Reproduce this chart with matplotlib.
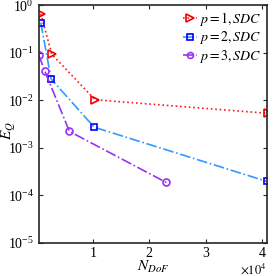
import matplotlib
matplotlib.use("Agg")
import matplotlib.pyplot as plt
import numpy as np

plt.rcParams['font.family'] = ['Liberation Serif', 'DejaVu Serif']
plt.rcParams['mathtext.fontset'] = 'stix'

# degrés de liberté et erreur E_Q
ndof_p1 = [710, 2660, 10350, 41000]
err_p1 = [0.66, 0.093, 0.0102, 0.0053]
ndof_p2 = [710, 2540, 10200, 40850]
err_p2 = [0.43, 0.028, 0.0027, 1.95e-4]
ndof_p3 = [355, 1420, 5800, 23000]
err_p3 = [0.089, 0.041, 0.0022, 1.85e-4]
labels = [r'$p=1, SDC$', r'$p=2, SDC$', r'$p=3, SDC$']

fig = plt.figure(figsize=(2.73, 2.76), dpi=100)
ax = fig.add_axes([0.142, 0.121, 0.835, 0.860])

ax.semilogy(ndof_p1, err_p1, ':', color=(1, 0.1, 0.1), lw=1.2,
            marker='>', ms=6, mfc='none', mec=(0.95, 0, 0), mew=1.2, label=labels[0])
ax.semilogy(ndof_p2, err_p2, '-.', color=(0.2, 0.6, 1), lw=1.2,
            marker='s', ms=5, mfc='none', mec=(0, 0, 1), mew=1.2, label=labels[1])
ax.semilogy(ndof_p3, err_p3, '-.', color=(0.6, 0.2, 0.95), lw=1.2,
            marker='o', ms=5, mfc='none', mec=(0.6, 0.2, 0.95), mew=1.2, label=labels[2])

ax.set_xlim(350, 40850)
ax.set_ylim(1e-5, 1)
ax.set_xticks([1e4, 2e4, 3e4, 4e4])
ax.set_xticklabels(['1', '2', '3', '4'])
ax.set_yticks([1e-5, 1e-4, 1e-3, 1e-2, 1e-1, 1])
ax.yaxis.set_minor_locator(matplotlib.ticker.NullLocator())
ax.tick_params(direction='in', top=True, right=True, labelsize=10, length=3,
               width=0.8, colors=(0.15, 0.15, 0.15), labelcolor='black')
for s in ax.spines.values():
    s.set_linewidth(1.2)
    s.set_color((0.15, 0.15, 0.15))

ax.set_xlabel(r'$N_{DoF}$', fontsize=11)
ax.xaxis.set_label_coords(0.5, -0.07)
ax.set_ylabel(r'$E_Q$', fontsize=11)
ax.yaxis.set_label_coords(-0.092, 0.47)
ax.text(1.0, -0.082, r'$\times 10^4$', transform=ax.transAxes, ha='right',
        va='top', fontsize=9)

ax.legend(loc='upper right', frameon=False, fontsize=10, handlelength=1.0,
          handletextpad=0.15, borderaxespad=0.15, borderpad=0.2,
          labelspacing=0.1, markerscale=0.85)

fig.savefig('out.png', dpi=100)
